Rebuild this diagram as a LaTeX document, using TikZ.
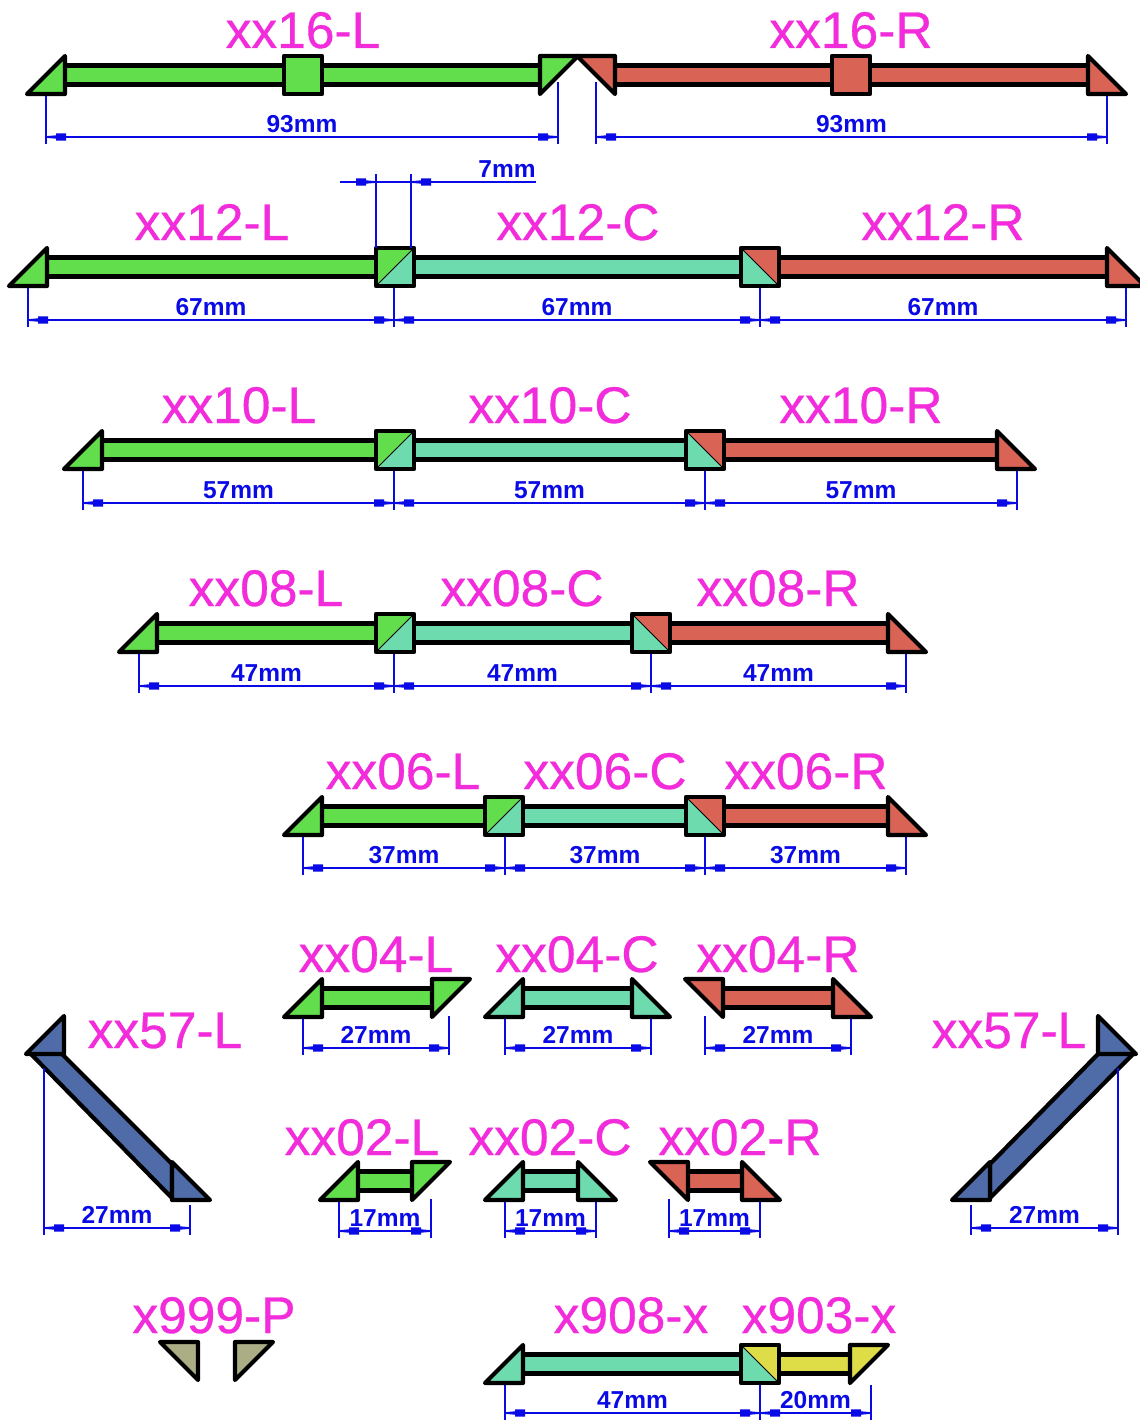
\documentclass[tikz,border=0pt]{standalone}
\usepackage{fontspec}
\setmainfont{Liberation Sans}
\newfontfamily\titlefont[FakeBold=0.6]{Liberation Sans}
\definecolor{gr}{HTML}{62DD4B}
\definecolor{te}{HTML}{6EDBAE}
\definecolor{re}{HTML}{D96355}
\definecolor{ye}{HTML}{DEDC47}
\definecolor{bl}{HTML}{4F6CA8}
\definecolor{kh}{HTML}{ABAD85}
\definecolor{tt}{HTML}{F22CDB}
\definecolor{dm}{HTML}{0A0AE6}
\tikzset{
  bar/.style={draw=black,line width=4.2pt,line join=round},
  thin bar/.style={draw=black,line width=1pt},
  titlelbl/.style={text=tt,font=\fontsize{51.5}{51.5}\titlefont,anchor=base,inner sep=0pt},
  dimlbl/.style={text=dm,font=\fontsize{24.5}{24.5}\selectfont\bfseries,anchor=base,inner sep=0pt},
  dimln/.style={draw=dm,line width=1.5pt}
}
\newcommand{\LT}[3]{\filldraw[bar,fill=#1] (#2,{#3+38}) -- ({#2+38},#3) -- ({#2+38},{#3+38}) -- cycle;}
\newcommand{\RT}[3]{\filldraw[bar,fill=#1] (#2,#3) -- ({#2+38},{#3+38}) -- (#2,{#3+38}) -- cycle;}
\newcommand{\RF}[3]{\filldraw[bar,fill=#1] (#2,#3) -- ({#2+38},#3) -- (#2,{#3+38}) -- cycle;}
\newcommand{\LF}[3]{\filldraw[bar,fill=#1] (#2,#3) -- ({#2+38},#3) -- ({#2+38},{#3+38}) -- cycle;}
\newcommand{\SH}[4]{\filldraw[bar,fill=#1] (#2,{#4+9.5}) rectangle (#3,{#4+28.5});}
\newcommand{\SQ}[3]{\filldraw[bar,fill=#1] (#2,#3) rectangle ({#2+38},{#3+38});}
\newcommand{\SQA}[4]{\fill[#1] (#3,#4) -- ({#3+38},#4) -- (#3,{#4+38}) -- cycle;
  \fill[#2] ({#3+38},#4) -- ({#3+38},{#4+38}) -- (#3,{#4+38}) -- cycle;
  \draw[thin bar] (#3,{#4+38}) -- ({#3+38},#4);
  \draw[bar] (#3,#4) rectangle ({#3+38},{#4+38});}
\newcommand{\SQB}[4]{\fill[#1] (#3,#4) -- ({#3+38},#4) -- ({#3+38},{#4+38}) -- cycle;
  \fill[#2] (#3,#4) -- ({#3+38},{#4+38}) -- (#3,{#4+38}) -- cycle;
  \draw[thin bar] (#3,#4) -- ({#3+38},{#4+38});
  \draw[bar] (#3,#4) rectangle ({#3+38},{#4+38});}
\newcommand{\TT}[4]{\node[titlelbl] (#1) at (#2,{#3+17}) {#4};}
% arrow mark: coordinate, direction (+1/-1)
\newcommand{\MK}[2]{\fill[dm] (#1) ++(0,-0.8) -- ++({#2*10},-0.9) -- ++(0,-2) -- ++({#2*10},0) -- ++(0,7.4) -- ++({-#2*10},0) -- ++(0,-2) -- ++({-#2*10},-0.9) -- cycle;}
\newcommand{\DIM}[7]{%
  \coordinate (#1a) at (#2,#4); \coordinate (#1b) at (#3,#4);
  \coordinate (#1c) at (#2,#5); \coordinate (#1d) at (#3,#6);
  \coordinate (#1e) at (#2,{#4+7}); \coordinate (#1f) at (#3,{#4+7});
  \draw[dimln] (#1c) -- (#1e); \draw[dimln] (#1d) -- (#1f);
  \draw[dimln] (#1a) -- (#1b);
  \MK{#1a}{1}\MK{#1b}{-1}
  \node[dimlbl] (#1t) at ({(#2+#3)/2},{#4-5}) {#7};}
\begin{document}
\begin{tikzpicture}[x=1pt,y=-1pt]
\path[use as bounding box,clip] (0,0) rectangle (1140,1421);
% row 16
\SH{gr}{65}{540}{56}\SH{re}{614}{1088}{56}
\LT{gr}{27}{56}\RF{gr}{540}{56}\SQ{gr}{284}{56}
\LF{re}{577}{56}\RT{re}{1088}{56}\SQ{re}{832}{56}
\TT{t16l}{303}{31}{xx16-L}\TT{t16r}{851}{31}{xx16-R}
\DIM{d16a}{46}{558}{137}{96}{82}{93mm}
\DIM{d16b}{596}{1107}{137}{82}{96}{93mm}
% row 12
\SH{gr}{47}{376}{248}\SH{te}{413}{741}{248}\SH{re}{778}{1107}{248}
\LT{gr}{9}{248}\RT{re}{1107}{248}
\SQA{gr}{te}{376}{248}\SQB{re}{te}{741}{248}
\TT{t12l}{212}{223}{xx12-L}\TT{t12c}{578}{223}{xx12-C}\TT{t12r}{943}{223}{xx12-R}
\DIM{d12a}{28}{394}{320}{288}{288}{67mm}
\DIM{d12b}{394}{760}{320}{288}{288}{67mm}
\DIM{d12c}{760}{1126}{320}{288}{288}{67mm}
% 7 mm
\coordinate (s1) at (376,174);\coordinate (s2) at (376,248);
\coordinate (s3) at (411,174);\coordinate (s4) at (411,248);
\coordinate (s5) at (340,182);\coordinate (s6) at (536,182);
\coordinate (s7) at (376,182);\coordinate (s8) at (411,182);
\draw[dimln] (s1) -- (s2);\draw[dimln] (s3) -- (s4);\draw[dimln] (s5) -- (s6);
\MK{s7}{-1}\MK{s8}{1}
\node[dimlbl] (d7t) at (507,177) {7mm};
% row 10
\SH{gr}{102}{376}{431}\SH{te}{413}{686}{431}\SH{re}{724}{997}{431}
\LT{gr}{64}{431}\RT{re}{997}{431}
\SQA{gr}{te}{376}{431}\SQB{re}{te}{686}{431}
\TT{t10l}{239}{406}{xx10-L}\TT{t10c}{550}{406}{xx10-C}\TT{t10r}{861}{406}{xx10-R}
\DIM{d10a}{83}{394}{503}{471}{471}{57mm}
\DIM{d10b}{394}{705}{503}{471}{471}{57mm}
\DIM{d10c}{705}{1017}{503}{471}{471}{57mm}
% row 08
\SH{gr}{157}{376}{614}\SH{te}{413}{632}{614}\SH{re}{669}{888}{614}
\LT{gr}{119}{614}\RT{re}{888}{614}
\SQA{gr}{te}{376}{614}\SQB{re}{te}{632}{614}
\TT{t08l}{266}{589}{xx08-L}\TT{t08c}{522}{589}{xx08-C}\TT{t08r}{778}{589}{xx08-R}
\DIM{d08a}{139}{394}{686}{654}{654}{47mm}
\DIM{d08b}{394}{651}{686}{654}{654}{47mm}
\DIM{d08c}{651}{906}{686}{654}{654}{47mm}
% row 06
\SH{gr}{322}{485}{797}\SH{te}{523}{686}{797}\SH{re}{724}{888}{797}
\LT{gr}{284}{797}\RT{re}{888}{797}
\SQA{gr}{te}{485}{797}\SQB{re}{te}{686}{797}
\TT{t06l}{403}{772}{xx06-L}\TT{t06c}{605}{772}{xx06-C}\TT{t06r}{806}{772}{xx06-R}
\DIM{d06a}{303}{505}{868}{837}{837}{37mm}
\DIM{d06b}{505}{705}{868}{837}{837}{37mm}
\DIM{d06c}{705}{906}{868}{837}{837}{37mm}
% row 04
\SH{gr}{322}{432}{979}\LT{gr}{284}{979}\RF{gr}{432}{979}
\SH{te}{523}{632}{979}\LT{te}{485}{979}\RT{te}{632}{979}
\SH{re}{723}{833}{979}\LF{re}{685}{979}\RT{re}{833}{979}
\TT{t04l}{376}{955}{xx04-L}\TT{t04c}{577}{955}{xx04-C}\TT{t04r}{778}{955}{xx04-R}
\DIM{d04a}{303}{449}{1048}{1019}{1016}{27mm}
\DIM{d04b}{505}{651}{1048}{1019}{1019}{27mm}
\DIM{d04c}{705}{851}{1048}{1016}{1019}{27mm}
% row 02
\SH{gr}{358}{412}{1162}\LT{gr}{320}{1162}\RF{gr}{412}{1162}
\SH{te}{523}{578}{1162}\LT{te}{485}{1162}\RT{te}{578}{1162}
\SH{re}{687}{742}{1162}\LF{re}{650}{1162}\RT{re}{742}{1162}
\TT{t02l}{362}{1138}{xx02-L}\TT{t02c}{550}{1138}{xx02-C}\TT{t02r}{740}{1138}{xx02-R}
\DIM{d02a}{339}{431}{1231}{1202}{1199}{17mm}
\DIM{d02b}{505}{596}{1231}{1202}{1202}{17mm}
\DIM{d02c}{669}{760}{1231}{1199}{1202}{17mm}
% xx57 left
\filldraw[bar,fill=bl] (30,1053) -- (61,1053) -- (172,1164) -- (172,1198) -- cycle;
\LT{bl}{26}{1016}\RT{bl}{172}{1162}
\TT{t57l}{165}{1031}{xx57-L}
\DIM{d57a}{44}{190}{1228}{1068}{1205}{27mm}
% xx57 right
\filldraw[bar,fill=bl] (1134,1053) -- (1099,1053) -- (990,1164) -- (990,1198) -- cycle;
\RT{bl}{1098}{1016}\LT{bl}{952}{1162}
\TT{t57r}{1009}{1031}{xx57-L}
\DIM{d57b}{971}{1118}{1228}{1205}{1068}{27mm}
% x999
\LF{kh}{160}{1342}\RF{kh}{235}{1342}
\TT{t999}{214}{1316}{x999-P}
% x908 / x903
\SH{te}{523}{741}{1345}\SH{ye}{778}{850}{1345}
\LT{te}{485}{1345}\RF{ye}{850}{1345}\SQB{ye}{te}{741}{1345}
\TT{t908}{631}{1316}{x908-x}\TT{t903}{819}{1316}{x903-x}
\DIM{d908}{505}{760}{1413}{1385}{1385}{47mm}
\DIM{d903}{760}{871}{1413}{1385}{1385}{20mm}
\end{tikzpicture}
\end{document}
